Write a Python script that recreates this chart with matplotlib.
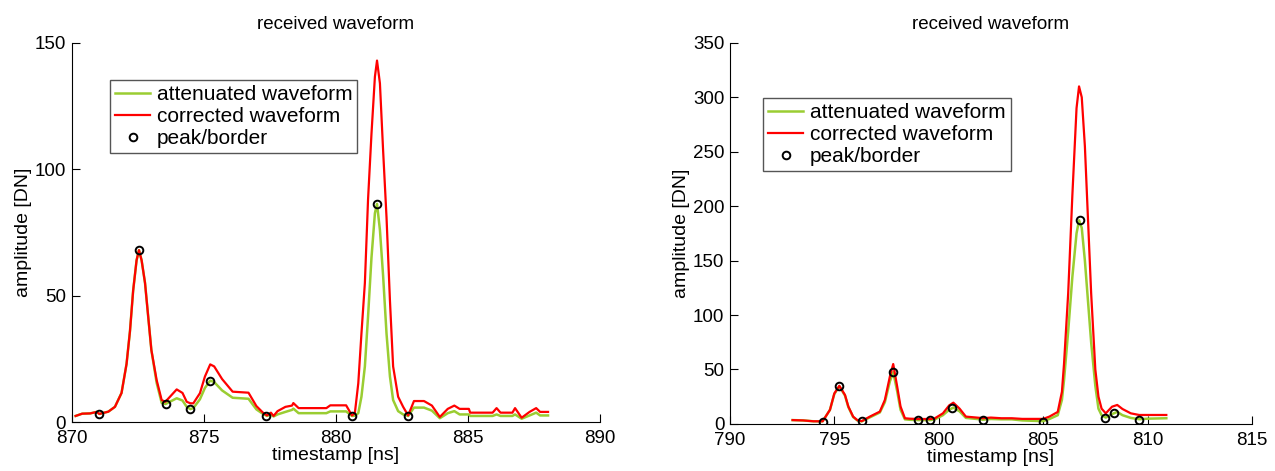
import numpy as np
import matplotlib.pyplot as plt

plt.rcParams['font.family'] = ['Liberation Sans', 'DejaVu Sans']

# left panel: attenuated / corrected waveform
t_left = [870.15, 870.4, 870.7, 870.95, 871.05, 871.39, 871.64, 871.89, 872.08, 872.21,
          872.33, 872.46, 872.55, 872.65, 872.78, 872.9, 873.02, 873.22, 873.41, 873.55,
          873.98, 874.2, 874.36, 874.5, 874.61, 874.86, 875.05, 875.25, 875.4, 875.7,
          876.1, 876.7, 877.0, 877.25, 877.4, 877.55, 877.65, 877.8, 878.1, 878.35,
          878.4, 878.6, 879.65, 879.8, 880.4, 880.62, 880.73, 880.86, 880.98, 881.11,
          881.23, 881.36, 881.49, 881.57, 881.68, 881.8, 881.93, 882.06, 882.18, 882.37,
          882.56, 882.75, 882.97, 883.35, 883.65, 883.95, 884.25, 884.5, 884.7, 885.05,
          885.1, 885.95, 886.1, 886.25, 886.7, 886.8, 887.05, 887.35, 887.6, 887.75, 888.05]
corr_left = [2.4, 3.3, 3.4, 4.0, 3.2, 4.1, 6, 11.5, 23, 36,
             52, 64, 68, 64, 55, 41.7, 28.5, 16.6, 8.7, 8,
             12.9, 11.5, 8, 7.4, 7.4, 11.4, 18, 22.8, 22, 17,
             12, 11.6, 6.3, 3.7, 2.6, 3.7, 2.4, 4.3, 6, 6.5,
             7.5, 5.5, 5.5, 6.6, 6.6, 2.6, 3.5, 15.3, 35, 55,
             88, 114, 136.6, 143, 134, 107.6, 81, 48, 22, 10,
             6, 2.6, 8.3, 8.3, 6.5, 2.0, 5.2, 6.5, 5.2, 5.2,
             3.7, 3.7, 5.5, 3.7, 3.7, 5.5, 1.7, 4, 5.5, 4, 4]
att_left = [2.4, 3.3, 3.4, 4.0, 3.2, 4.1, 6, 11.5, 23, 36,
            52, 64, 68, 64, 55, 41.7, 28.5, 15.5, 7.6, 7.1,
            9.4, 8.5, 6, 5.1, 5.5, 9, 13.5, 16.4, 15.8, 12.5,
            9.6, 9.2, 5, 3.2, 2.4, 3, 2.2, 3, 4, 4.8,
            5.3, 3.5, 3.5, 4.2, 4.2, 2.4, 2.5, 3.5, 10, 22,
            41.7, 65, 82.6, 86.3, 76, 58, 35, 18, 8.7, 4.3,
            3, 2.4, 5.7, 5.7, 4.5, 1.5, 3.5, 4.3, 3, 3,
            2.4, 2.4, 3, 2.4, 2.4, 3, 1.3, 2.6, 3.7, 2.6, 2.6]
peak_t_left = [871.05, 872.55, 873.57, 874.48, 875.25, 877.37, 880.62, 881.57, 882.75]
peak_a_left = [3, 68, 7.1, 5.1, 16.4, 2.4, 2.4, 86.3, 2.4]

# right panel
t_right = [793.0, 793.5, 794.0, 794.44, 794.79, 795.0, 795.24, 795.51, 795.67, 795.9,
           796.1, 796.31, 796.7, 797.18, 797.42, 797.66, 797.82, 798.01, 798.17, 798.38,
           798.6, 799.02, 799.58, 799.8, 800.2, 800.5, 800.7, 801.0, 801.3, 802.0,
           802.1, 802.5, 803.0, 803.5, 804.0, 805.0, 805.3, 805.7, 805.9, 806.0,
           806.2, 806.4, 806.6, 806.72, 806.85, 807.0, 807.1, 807.3, 807.5, 807.65,
           807.8, 808.0, 808.3, 808.55, 808.8, 809.2, 809.6, 810.0, 810.9]
corr_right = [3.5, 3.2, 2.4, 2.4, 12.9, 28, 35, 26.6, 16, 6.7,
              3.5, 2.5, 6.7, 11.3, 22, 43.5, 55, 34.3, 16, 5.2,
              4.8, 4.5, 4.5, 5, 9.7, 17, 19.5, 14, 6.7, 5.5,
              5.2, 5.8, 5.2, 5.2, 4.6, 4.6, 6.7, 11, 29.5, 55,
              120, 210, 290, 310, 300, 255, 210, 120, 50, 25,
              14, 9.7, 15.8, 17.4, 13.7, 9.7, 8.2, 8.2, 8.2]
att_right = [3.5, 3.2, 2.4, 2.4, 12.9, 27.5, 34.5, 26, 15.5, 6.3,
             3.2, 2.3, 6, 10.5, 20, 39, 47.5, 30, 13, 4.2,
             3.8, 3.5, 3.5, 4, 8, 13, 15, 11.5, 5.5, 4.2,
             3.8, 4.5, 4.2, 4.2, 3.2, 2.5, 4.5, 8, 22, 40,
             85, 135, 175, 187, 180, 150, 125, 75, 35, 14,
             8, 5.8, 9, 11, 8, 5.5, 4.3, 4.8, 5.2]
peak_t_right = [794.44, 795.24, 796.31, 797.82, 799.02, 799.58, 800.63, 802.1, 804.98,
                806.76, 807.95, 808.39, 809.58]
peak_a_right = [2.1, 35, 2.5, 47.5, 3.7, 3.7, 14.3, 3.7, 1.5, 187, 5.8, 10.4, 3.7]

fig = plt.figure(figsize=(12.75, 4.71), dpi=100)
ax1 = fig.add_axes([0.0562, 0.104, 0.414, 0.805])
ax2 = fig.add_axes([0.5725, 0.100, 0.4094, 0.809])

panels = [
    (ax1, t_left, att_left, corr_left, peak_t_left, peak_a_left,
     (870, 890), (0, 150), np.arange(0, 151, 50), (0.072, 0.903)),
    (ax2, t_right, att_right, corr_right, peak_t_right, peak_a_right,
     (790, 815), (0, 350), np.arange(0, 351, 50), (0.063, 0.856)),
]

for ax, t, att, corr, pt, pa, xl, yl, yt, lpos in panels:
    ax.plot(t, att, color="#9acd32", lw=1.8, label="attenuated waveform")
    ax.plot(t, corr, color="#ff0000", lw=1.6, label="corrected waveform")
    ax.plot(pt, pa, "o", mfc="none", mec="black", mew=1.4, ms=5.5, label="peak/border")
    ax.set_xlim(*xl)
    ax.set_ylim(*yl)
    ax.set_xticks(np.arange(xl[0], xl[1] + 1, 5))
    ax.set_yticks(yt)
    ax.spines["top"].set_visible(False)
    ax.spines["right"].set_visible(False)
    ax.tick_params(direction="in", labelsize=13.5, length=6)
    ax.tick_params(axis="x", pad=6)
    ax.tick_params(axis="y", pad=4)
    ax.set_title("received waveform", fontsize=13.5, pad=10)
    ax.set_xlabel("timestamp [ns]", fontsize=14, labelpad=0)
    ax.set_ylabel("amplitude [DN]", fontsize=14, labelpad=2)
    leg = ax.legend(loc="upper left", bbox_to_anchor=lpos, fontsize=15, fancybox=False,
                    edgecolor="#555555", framealpha=1, handlelength=1.7, handletextpad=0.3,
                    labelspacing=0.15, borderpad=0.25, borderaxespad=0)
    leg.get_frame().set_linewidth(1.0)

fig.savefig("out.png", dpi=100)
